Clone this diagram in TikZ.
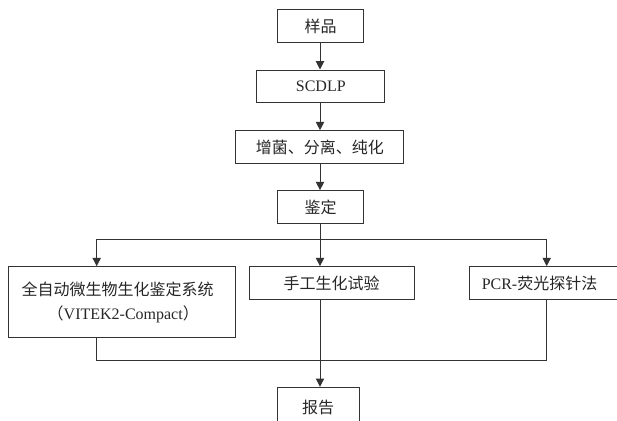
\documentclass[tikz,border=0pt]{standalone}
\usepackage{fontspec}
\setmainfont{Liberation Serif}
\newfontfamily\cjk{Noto Sans CJK SC}
\usetikzlibrary{arrows.meta,calc}
\begin{document}
\begin{tikzpicture}[x=1pt,y=-1pt,
  box/.style={draw=black!80,line width=1pt,inner sep=0pt,font=\fontsize{16}{24.6}\selectfont,text=black!85},
  conn/.style={draw=black!80,line width=1pt},
  arr/.style={conn,-{Triangle[length=8.3pt,width=8.3pt]}}]
\useasboundingbox (0,0) rectangle (617,420);
\coordinate (trunk) at (320,0);
\node[box,minimum width=85.6pt,minimum height=33.4pt] (yp) at (320.5,26) {\cjk 样品};
\node[box,minimum width=128.3pt,minimum height=32pt] (sc) at (320.8,86) {SCDLP};
\node[box,minimum width=168.3pt,minimum height=32.6pt] (zj) at (319.8,147) {\cjk 增菌、分离、纯化};
\node[box,minimum width=85.6pt,minimum height=33.3pt] (jd) at (320.5,207.3) {\cjk 鉴定};
\node[box,minimum height=71pt,text width=200.6pt,inner xsep=13.4pt,align=left] (qz) at (122,302.2)
  {{\cjk 全自动微生物生化鉴定系统}\\\hspace*{26pt}{\cjk （}VITEK2-Compact{\cjk ）}};
\node[box,minimum width=164.7pt,minimum height=33.3pt] (sg) at (331.7,283.3) {\cjk 手工生化试验};
\node[box,minimum height=33.3pt,text width=130.9pt,inner xsep=12.4pt,align=left] (pcr) at (547.2,283.3) {PCR-{\cjk 荧光探针法}};
\node[box,minimum width=81.7pt,minimum height=41pt] (bg) at (318.2,407.8) {\cjk 报告};
\coordinate (la) at (96.7,239.3);
\coordinate (ra) at (546.7,239.3);
\coordinate (lb) at (96.7,360);
\coordinate (rb) at (546.7,360);
\draw[arr] (yp.south -| trunk) -- (sc.north -| trunk);
\draw[arr] (sc.south -| trunk) -- (zj.north -| trunk);
\draw[arr] (zj.south -| trunk) -- (jd.north -| trunk);
\draw[arr] (jd.south -| trunk) -- (sg.north -| trunk);
\draw[conn] (la) -- (ra);
\draw[arr] (la) -- (la |- qz.north);
\draw[arr] (ra) -- (ra |- pcr.north);
\draw[conn] (lb |- qz.south) -- (lb) -- (rb) -- (rb |- pcr.south);
\draw[arr] (sg.south -| trunk) -- (bg.north -| trunk);
\end{tikzpicture}
\end{document}
